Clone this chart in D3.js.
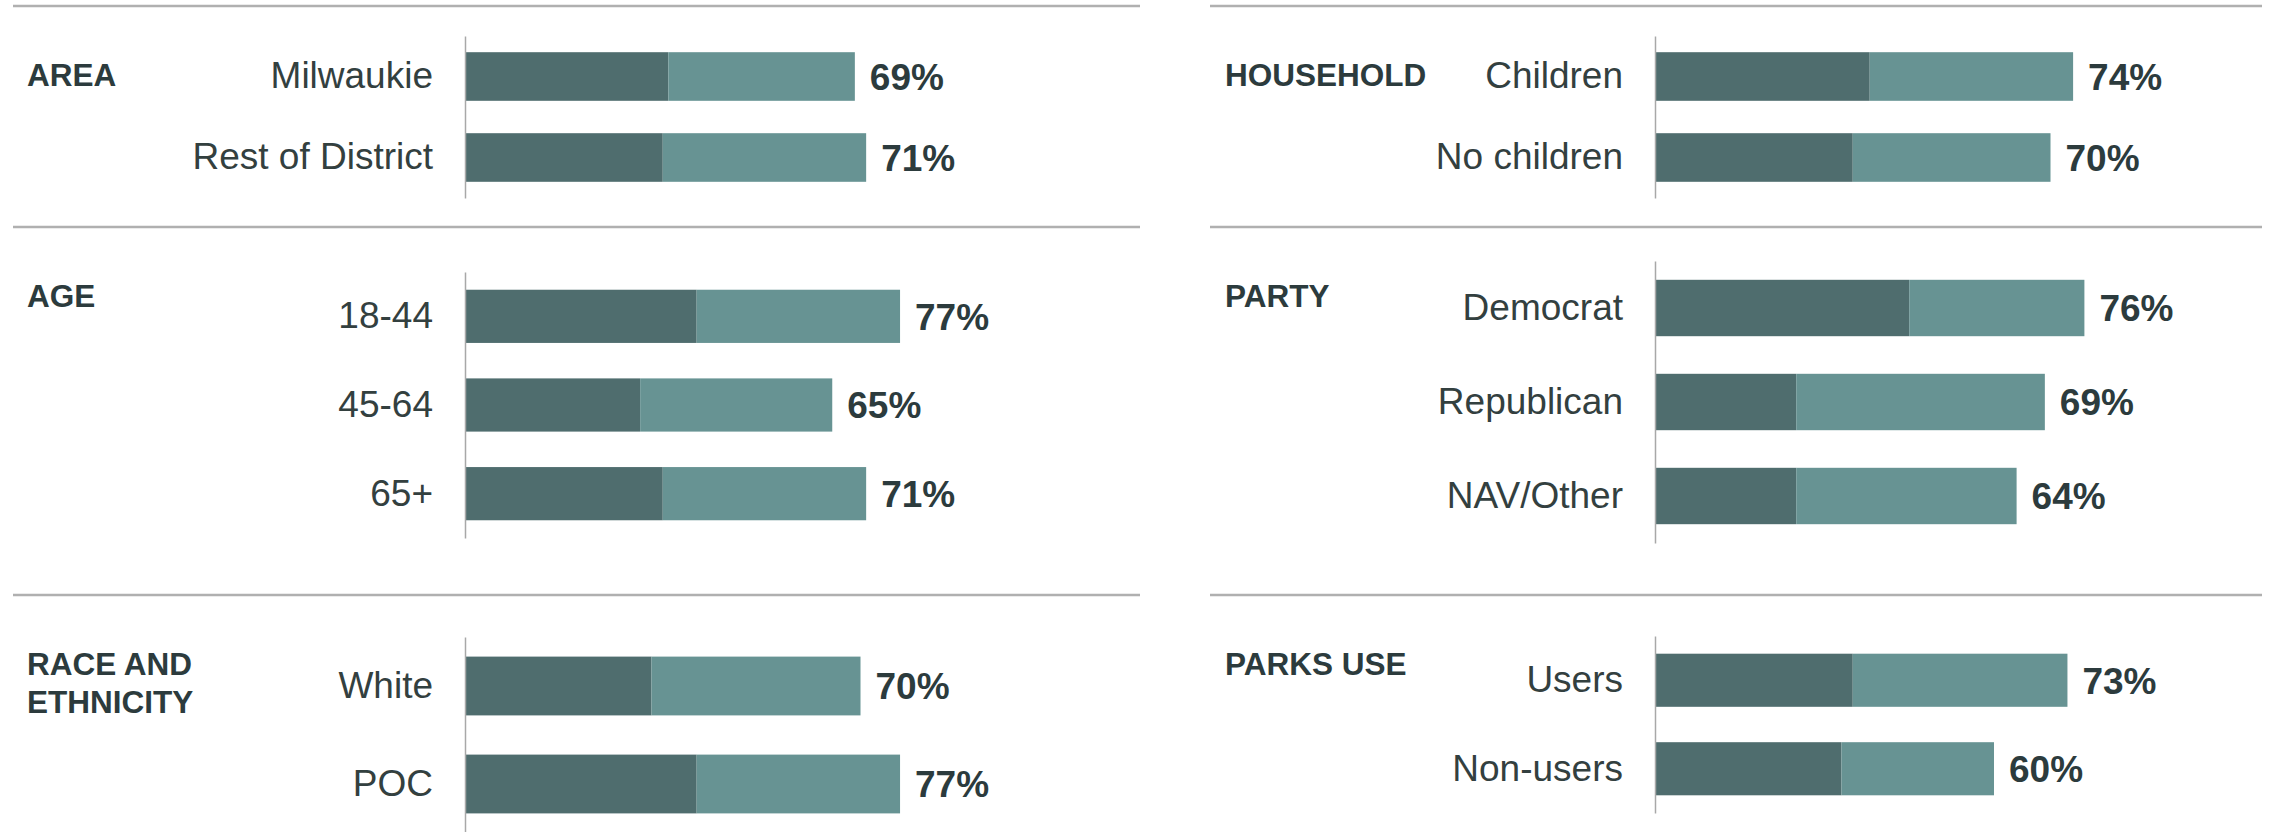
<!DOCTYPE html>
<html>
<head>
<meta charset="utf-8">
<script src="https://cdn.jsdelivr.net/npm/d3@7"></script>
<style>
  body { margin: 0; background: #fff; }
  svg { display: block; font-family: "Liberation Sans", Arial, sans-serif; }
</style>
</head>
<body>
<div id="chart"></div>
<script>
var width = 2274,
  height = 832;

// Group titles (one row per line of text)
const titles = [
  ["AREA"],
  ["AGE"],
  ["RACE AND", "ETHNICITY"],
  ["HOUSEHOLD"],
  ["PARTY"],
  ["PARKS USE"],
];
// Categories in each group
const categories = [
  ["Milwaukie", "Rest of District"],
  ["18-44", "45-64", "65+"],
  ["White", "POC"],
  ["Children", "No children"],
  ["Democrat", "Republican", "NAV/Other"],
  ["Users", "Non-users"],
];
// dark segment (first part) and light segment (second part), in %
const darkValues = [
  [36, 35],
  [41, 31, 35],
  [33, 41],
  [38, 35],
  [45, 25, 25],
  [35, 33],
];
const lightValues = [
  [33, 36],
  [36, 34, 36],
  [37, 36],
  [36, 35],
  [31, 44, 39],
  [38, 27],
];
const totalLabels = [
  ["69%", "71%"],
  ["77%", "65%", "71%"],
  ["70%", "77%"],
  ["74%", "70%"],
  ["76%", "69%", "64%"],
  ["73%", "60%"],
];

// layout of the six panels
var columns = [
  { lineX0: 13, lineX1: 1140, axisX: 465, titleX: 27 },
  { lineX0: 1210, lineX1: 2262, axisX: 1655, titleX: 1225 },
];
var panels = [
  { col: 0, line: 6, top: 36, bottom: 198 },
  { col: 0, line: 227, top: 272, bottom: 538 },
  { col: 0, line: 595, top: 637, bottom: 833 },
  { col: 1, line: 6, top: 36, bottom: 198 },
  { col: 1, line: 227, top: 261, bottom: 543 },
  { col: 1, line: 595, top: 636, bottom: 813 },
];

var darkColor = "#4f6d6e",
  lightColor = "#679393",
  textColor = "#2c3b3d";

var svg = d3
  .select("#chart")
  .append("svg")
  .attr("width", width)
  .attr("height", height);

panels.forEach(function (p, i) {
  var c = columns[p.col];
  var g = svg.append("g");

  // separator line above the panel
  g.append("line")
    .attr("x1", c.lineX0)
    .attr("x2", c.lineX1)
    .attr("y1", p.line)
    .attr("y2", p.line)
    .attr("stroke", "#b0b0b0")
    .attr("stroke-width", 2.5);

  // title
  titles[i].forEach(function (t, k) {
    g.append("text")
      .attr("x", c.titleX)
      .attr("y", p.line + 80 + k * 38)
      .text(t)
      .style("font-size", "31.5px")
      .style("font-weight", "bold")
      .style("fill", textColor);
  });

  var x = d3.scaleLinear().domain([0, 100]).range([c.axisX, c.axisX + 565]);
  var y = d3
    .scaleBand()
    .domain(categories[i])
    .range([p.top, p.bottom])
    .paddingInner(0.4)
    .paddingOuter(0.2);

  var rows = categories[i].map(function (d, j) {
    return {
      cat: d,
      dark: darkValues[i][j],
      light: lightValues[i][j],
      label: totalLabels[i][j],
    };
  });

  // dark part
  g.selectAll(".dark")
    .data(rows)
    .enter()
    .append("rect")
    .attr("x", x(0))
    .attr("y", (d) => y(d.cat))
    .attr("width", (d) => x(d.dark) - x(0))
    .attr("height", y.bandwidth())
    .attr("fill", darkColor);

  // light part
  g.selectAll(".light")
    .data(rows)
    .enter()
    .append("rect")
    .attr("x", (d) => x(d.dark))
    .attr("y", (d) => y(d.cat))
    .attr("width", (d) => x(d.dark + d.light) - x(d.dark))
    .attr("height", y.bandwidth())
    .attr("fill", lightColor);

  // total labels
  g.selectAll(".total")
    .data(rows)
    .enter()
    .append("text")
    .attr("x", (d) => x(d.dark + d.light) + 15)
    .attr("y", (d) => y(d.cat) + y.bandwidth() / 2)
    .attr("dy", "0.36em")
    .text((d) => d.label)
    .style("font-size", "37px")
    .style("font-weight", "bold")
    .style("fill", textColor);

  // category axis
  var axis = g
    .append("g")
    .attr("transform", "translate(" + c.axisX + ",0)")
    .call(d3.axisLeft(y).tickSize(0).tickPadding(32));
  axis.select(".domain").attr("stroke", "#a8a8a8").attr("stroke-width", 1.5);
  axis
    .selectAll("text")
    .style("font-size", "37px")
    .style("font-family", '"Liberation Sans", Arial, sans-serif')
    .style("fill", "#33403f");
});
</script>
</body>
</html>
